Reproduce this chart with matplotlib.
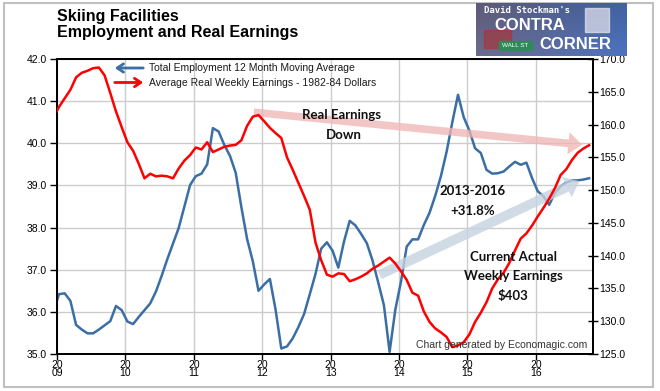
import numpy as np
import matplotlib
matplotlib.use("Agg")
import matplotlib.pyplot as plt
from matplotlib.patches import Rectangle

plt.rcParams['font.family'] = ['Liberation Sans', 'DejaVu Sans']

# ---- data (monthly, starting Dec 2008) ----
start_year = 2008
start_month = 12
employment = [36.0, 36.42, 36.44, 36.26, 35.69, 35.58, 35.49, 35.49, 35.58, 35.68,
              35.78, 36.14, 36.04, 35.77, 35.71, 35.88, 36.04, 36.2, 36.48, 36.85,
              37.25, 37.62, 37.99, 38.5, 39.01, 39.22, 39.28, 39.5, 40.36, 40.28,
              39.96, 39.7, 39.3, 38.48, 37.73, 37.2, 36.5, 36.65, 36.78, 36.05,
              35.13, 35.18, 35.37, 35.64, 35.95, 36.42, 36.9, 37.5, 37.65, 37.45,
              37.05, 37.67, 38.16, 38.05, 37.85, 37.63, 37.22, 36.7, 36.16, 35.05,
              36.05, 36.72, 37.55, 37.72, 37.72, 38.06, 38.35, 38.75, 39.22, 39.8,
              40.5, 41.15, 40.62, 40.3, 39.88, 39.77, 39.37, 39.28, 39.29, 39.33,
              39.45, 39.56, 39.49, 39.54, 39.17, 38.86, 38.74, 38.54, 38.82, 38.98,
              39.07, 39.12, 39.12, 39.14, 39.17]
earnings = [161.0, 162.7, 164.0, 165.3, 167.2, 167.9, 168.2, 168.6, 168.7, 167.5,
            164.8, 162.0, 159.6, 157.3, 156.0, 154.0, 151.8, 152.5, 152.1, 152.2,
            152.1, 151.8, 153.3, 154.5, 155.35, 156.5, 156.2, 157.3, 155.8, 156.2,
            156.6, 156.8, 156.9, 157.6, 159.8, 161.2, 161.45, 160.5, 159.5, 158.7,
            157.95, 155.0, 153.1, 151.1, 149.1, 147.0, 142.0, 139.3, 137.1, 136.8,
            137.3, 137.2, 136.1, 136.4, 136.8, 137.3, 138.0, 138.5, 139.1, 139.7,
            138.8, 137.6, 136.3, 134.35, 133.9, 131.5, 129.9, 128.9, 128.3, 127.6,
            126.05, 126.3, 126.8, 128.0, 129.9, 131.3, 132.9, 135.0, 136.4, 137.4,
            138.9, 140.8, 142.6, 143.4, 144.6, 146.0, 147.3, 148.7, 150.3, 152.3,
            153.2, 154.6, 155.7, 156.35, 156.85]
year_ticks = [2009, 2010, 2011, 2012, 2013, 2014, 2015, 2016]
year_labels = ["20\n09", "20\n10", "20\n11", "20\n12", "20\n13", "20\n14", "20\n15", "20\n16"]
left_ticks = [35.0, 36.0, 37.0, 38.0, 39.0, 40.0, 41.0, 42.0]
right_ticks = [125.0, 130.0, 135.0, 140.0, 145.0, 150.0, 155.0, 160.0, 165.0, 170.0]

n = len(employment)
x = start_year + (start_month - 1) / 12 + (np.arange(n) + 0.35) / 12

W, H = 660, 391
fig = plt.figure(figsize=(W / 100, H / 100), dpi=100)
L, R, T, B = 57, 593, 59, 354
ax = fig.add_axes([L / W, 1 - B / H, (R - L) / W, (B - T) / H])
ax2 = ax.twinx()

ax.set_xlim(2009.0, 2016.836)
ax.set_ylim(35, 42)
ax2.set_ylim(125, 170)

ax.set_xticks(year_ticks)
ax.set_xticklabels(year_labels, linespacing=0.85)
ax.set_yticks(left_ticks)
ax.set_yticklabels([f"{v:.1f}" for v in left_ticks])
ax2.set_yticks(right_ticks)
ax2.set_yticklabels([f"{v:.1f}" for v in right_ticks])

ax.grid(True, color='#cccccc', lw=1.0)
ax.set_axisbelow(True)
ax.tick_params(axis='x', direction='out', length=4, width=1, pad=0, labelsize=7.5, colors='black')
ax.tick_params(axis='y', direction='out', length=5, width=1, pad=2, labelsize=7.5, colors='black')
ax2.tick_params(axis='y', direction='inout', length=7, width=1, pad=1, labelsize=7.5, colors='black')
for a in (ax, ax2):
    for s in a.spines.values():
        s.set_linewidth(1.3)
        s.set_color('black')

ax.plot(x, employment, color='#3a6ea5', lw=1.8, zorder=5, clip_on=True)
ax2.plot(x, earnings, color='#ff0000', lw=1.8, zorder=5, clip_on=True)

# legend arrows and texts
def fx(px):
    return (px - L) / (R - L)

def fy(py):
    return (B - py) / (B - T)

ax2.annotate('', xy=(fx(112), fy(68)), xytext=(fx(146), fy(68)), xycoords='axes fraction',
             arrowprops=dict(arrowstyle='->,head_length=0.45,head_width=0.3', color='#3a6ea5', lw=2))
ax2.annotate('', xy=(fx(146), fy(82.5)), xytext=(fx(112), fy(82.5)), xycoords='axes fraction',
             arrowprops=dict(arrowstyle='->,head_length=0.45,head_width=0.3', color='#ff0000', lw=2))
ax2.text(fx(149), fy(68), "Total Employment 12 Month Moving Average", transform=ax2.transAxes,
         fontsize=7.5, va='center', ha='left', color='#1a1a1a')
ax2.text(fx(149), fy(82.5), "Average Real Weekly Earnings - 1982-84 Dollars", transform=ax2.transAxes,
         fontsize=7.5, va='center', ha='left', color='#1a1a1a')

# trend arrows
ax2.annotate('', xy=(fx(585), fy(145)), xytext=(fx(251), fy(112)), xycoords='axes fraction',
             arrowprops=dict(arrowstyle='simple,head_length=1.0,head_width=1.6,tail_width=0.55',
                             color='#f0b4b4', alpha=0.75, lw=0), zorder=1)
ax2.annotate('', xy=(fx(582), fy(180)), xytext=(fx(377), fy(276)), xycoords='axes fraction',
             arrowprops=dict(arrowstyle='simple,head_length=1.0,head_width=1.6,tail_width=0.7',
                             color='#c6d3e0', alpha=0.8, lw=0), zorder=1)

ann_font = dict(family=['Lato', 'DejaVu Sans'], fontweight='bold', fontsize=9.5, color='#111111',
                ha='center', va='center', transform=ax2.transAxes, zorder=6)
ax2.text(fx(342), fy(115), "Real Earnings", **ann_font)
ax2.text(fx(344), fy(135), "Down", **ann_font)
ax2.text(fx(473), fy(191), "2013-2016", **ann_font)
ax2.text(fx(473), fy(211), "+31.8%", **ann_font)
ax2.text(fx(513), fy(257), "Current Actual", **ann_font)
ax2.text(fx(513), fy(276), "Weekly Earnings", **ann_font)
ax2.text(fx(513), fy(296), "$403", **ann_font)

ax2.text(fx(587), fy(345), "Chart generated by Economagic.com", transform=ax2.transAxes,
         fontsize=7.5, ha='right', va='center', color='#333333', zorder=6)

# title
fig.text(57 / W, 1 - 17 / H, "Skiing Facilities", fontsize=11.5, fontweight='bold', ha='left', va='center')
fig.text(57 / W, 1 - 32.5 / H, "Employment and Real Earnings", fontsize=11.5, fontweight='bold', ha='left', va='center')

# outer border
fig.patches.append(Rectangle((4 / W, 1 - 387 / H), 649 / W, 384 / H, transform=fig.transFigure,
                             fill=False, edgecolor='#c0c0c0', lw=1.5))

# logo banner
lax = fig.add_axes([476 / W, 1 - 56 / H, 151 / W, 53 / H], zorder=10)
grad = np.zeros((20, 60, 3))
for i in range(60):
    t = i / 59
    top = np.array([0.30, 0.45, 0.75]) * (0.6 + 0.4 * t) + np.array([0.5, 0.3, 0.2]) * (1 - t) * 0.5
    grad[:, i, :] = np.clip(top, 0, 1)
for r in range(20):
    grad[r, :, :] *= (0.85 + 0.15 * r / 19)
lax.imshow(grad, aspect='auto', extent=(0, 1, 0, 1))
lax.add_patch(Rectangle((0.05, 0.15), 0.18, 0.35, color='#b03030', alpha=0.6))
lax.add_patch(Rectangle((0.72, 0.45), 0.16, 0.45, color='#e8e8f0', alpha=0.7))
lax.text(0.05, 0.86, "David Stockman's", fontsize=6.5, fontweight='bold', color='white',
         ha='left', va='center', family=['DejaVu Sans Mono', 'DejaVu Sans'])
lax.text(0.12, 0.58, "CONTRA", fontsize=12, fontweight='bold', color='white', ha='left', va='center')
lax.text(0.42, 0.22, "CORNER", fontsize=12, fontweight='bold', color='white', ha='left', va='center')
lax.add_patch(Rectangle((0.15, 0.12), 0.22, 0.17, color='#2e8b57'))
lax.text(0.26, 0.205, "WALL ST", fontsize=4.5, color='white', ha='center', va='center')
lax.set_xlim(0, 1)
lax.set_ylim(0, 1)
lax.axis('off')

fig.savefig("out.png", dpi=100)
